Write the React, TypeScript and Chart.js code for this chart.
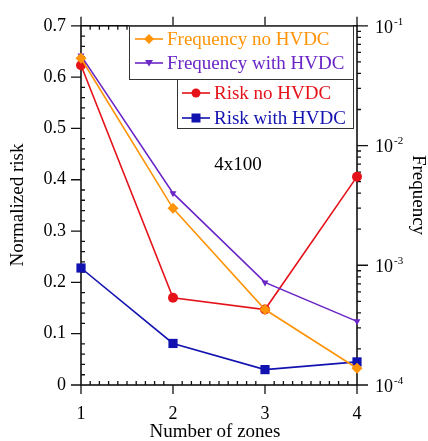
import React, { useEffect, useRef } from 'react';
import { Chart, registerables } from 'chart.js';

Chart.register(...registerables);

// Number of zones on the x axis
const zones = [1, 2, 3, 4];
// Frequency series (right, logarithmic axis)
const freqNoHvdc = [0.0536, 0.00299, 0.000427, 0.000138];
const freqWithHvdc = [0.0564, 0.004, 0.000719, 0.00034];
// Normalized risk series (left axis)
const riskNoHvdc = [0.623, 0.17, 0.147, 0.406];
const riskWithHvdc = [0.228, 0.081, 0.03, 0.045];

const riskTicks = [0, 0.1, 0.2, 0.3, 0.4, 0.5, 0.6, 0.7];
const freqDecades = [1e-4, 1e-3, 1e-2, 1e-1];
const decadeExponents = ['-4', '-3', '-2', '-1'];

const seriesNames = ['Frequency no HVDC', 'Frequency with HVDC', 'Risk no HVDC', 'Risk with HVDC'];
const caseLabel = '4x100';
const xTitle = 'Number of zones';
const yTitle = 'Normalized risk';
const y2Title = 'Frequency';

const SERIF = '"Liberation Serif", "Times New Roman", serif';
const ORANGE = '#FF9408';
const PURPLE = '#6A26C6';
const RED = '#E5121A';
const BLUE = '#1212B0';
const INK = '#111';

type Marker = 'diamond' | 'downTriangle' | 'circle' | 'square';

function drawMarker(ctx: CanvasRenderingContext2D, kind: Marker, x: number, y: number, color: string) {
  ctx.save();
  ctx.fillStyle = color;
  ctx.beginPath();
  if (kind === 'circle') {
    ctx.arc(x, y, 4.5, 0, Math.PI * 2);
  } else if (kind === 'square') {
    ctx.rect(x - 4.5, y - 4.5, 9, 9);
  } else if (kind === 'diamond') {
    ctx.moveTo(x, y - 5);
    ctx.lineTo(x + 5, y);
    ctx.lineTo(x, y + 5);
    ctx.lineTo(x - 5, y);
    ctx.closePath();
  } else {
    ctx.moveTo(x - 4, y - 3);
    ctx.lineTo(x + 4, y - 3);
    ctx.lineTo(x, y + 3.5);
    ctx.closePath();
  }
  ctx.fill();
  ctx.restore();
}

const framePlugin = {
  id: 'frameTicks',
  beforeDatasetsDraw(chart: any) {
    const { ctx, chartArea: a, scales } = chart;
    const xs = scales.x;
    const ys = scales.y;
    const fs = scales.freq;
    ctx.save();
    ctx.strokeStyle = INK;
    ctx.lineWidth = 1.6;
    ctx.strokeRect(a.left, a.top, a.right - a.left, a.bottom - a.top);

    ctx.lineWidth = 1.3;
    ctx.beginPath();
    // x axis: majors every zone, minors every 0.1
    for (let i = 0; i <= 30; i++) {
      const px = xs.getPixelForValue(1 + i / 10);
      if (i % 10 === 0) {
        ctx.moveTo(px, a.bottom); ctx.lineTo(px, a.bottom + 9);
        ctx.moveTo(px, a.top); ctx.lineTo(px, a.top - 9);
      } else {
        ctx.moveTo(px, a.bottom); ctx.lineTo(px, a.bottom - 4);
        ctx.moveTo(px, a.top); ctx.lineTo(px, a.top + 4);
      }
    }
    // left axis: majors every 0.1, minors every 0.02
    for (let i = 0; i <= 35; i++) {
      const py = ys.getPixelForValue(i * 0.02);
      if (i % 5 === 0) {
        ctx.moveTo(a.left, py); ctx.lineTo(a.left - 10, py);
      } else {
        ctx.moveTo(a.left, py); ctx.lineTo(a.left + 4, py);
      }
    }
    // right axis: decades and 2..9 minors
    freqDecades.forEach((d, i) => {
      const py = fs.getPixelForValue(d);
      ctx.moveTo(a.right, py); ctx.lineTo(a.right + 11, py);
      if (i < freqDecades.length - 1) {
        for (let m = 2; m <= 9; m++) {
          const pm = fs.getPixelForValue(d * m);
          ctx.moveTo(a.right, pm); ctx.lineTo(a.right + 4, pm);
        }
      }
    });
    ctx.stroke();
    ctx.restore();
  },
  afterDraw(chart: any) {
    const { ctx, chartArea: a, scales } = chart;
    const fs = scales.freq;
    ctx.save();
    ctx.fillStyle = '#000';

    // right axis decade labels with superscript exponents
    ctx.textAlign = 'left';
    ctx.textBaseline = 'middle';
    freqDecades.forEach((d, i) => {
      const py = fs.getPixelForValue(d);
      ctx.font = `18px ${SERIF}`;
      const lx = a.right + 18;
      ctx.fillText('10', lx, py + 2);
      const w = ctx.measureText('10').width;
      ctx.font = `11px ${SERIF}`;
      ctx.fillText(decadeExponents[i], lx + w + 1, py - 4);
    });

    // axis titles
    ctx.font = `19px ${SERIF}`;
    ctx.textAlign = 'center';
    ctx.textBaseline = 'middle';
    ctx.fillText(xTitle, (a.left + a.right) / 2 - 4, 432);

    ctx.save();
    ctx.translate(18, 205);
    ctx.rotate(-Math.PI / 2);
    ctx.fillText(yTitle, 0, 0);
    ctx.restore();

    ctx.save();
    ctx.translate(418, 195);
    ctx.rotate(Math.PI / 2);
    ctx.fillText(y2Title, 0, 0);
    ctx.restore();

    // case annotation
    ctx.fillText(caseLabel, 238, 165);

    // legend boxes
    ctx.lineWidth = 1;
    ctx.strokeStyle = '#333';
    const boxes = [
      { x0: 129, y0: a.top, x1: 353, y1: 79 },
      { x0: 177, y0: 79, x1: 353, y1: 128 },
    ];
    boxes.forEach((b) => {
      ctx.fillStyle = '#fff';
      ctx.fillRect(b.x0, b.y0, b.x1 - b.x0, b.y1 - b.y0);
      ctx.strokeRect(b.x0 + 0.5, b.y0 + 0.5, b.x1 - b.x0, b.y1 - b.y0);
    });

    const entries: { color: string; marker: Marker; x: number; y: number }[] = [
      { color: ORANGE, marker: 'diamond', x: 135, y: 39 },
      { color: PURPLE, marker: 'downTriangle', x: 135, y: 63 },
      { color: RED, marker: 'circle', x: 182, y: 93 },
      { color: BLUE, marker: 'square', x: 182, y: 118 },
    ];
    ctx.font = `19px ${SERIF}`;
    ctx.textAlign = 'left';
    ctx.textBaseline = 'middle';
    entries.forEach((e, i) => {
      ctx.strokeStyle = e.color;
      ctx.lineWidth = 1.6;
      ctx.beginPath();
      ctx.moveTo(e.x, e.y);
      ctx.lineTo(e.x + 28, e.y);
      ctx.stroke();
      drawMarker(ctx, e.marker, e.x + 14, e.y, e.color);
      ctx.fillStyle = e.color;
      ctx.fillText(seriesNames[i], e.x + 32, e.y + 1);
    });
    ctx.restore();
  },
};

export default function App() {
  const canvasRef = useRef<HTMLCanvasElement | null>(null);

  useEffect(() => {
    const canvas = canvasRef.current;
    if (!canvas) return;
    const pts = (vals: number[]) => zones.map((z, i) => ({ x: z, y: vals[i] }));

    const chart = new Chart(canvas, {
      type: 'line',
      data: {
        datasets: [
          {
            label: seriesNames[0], data: pts(freqNoHvdc), yAxisID: 'freq',
            borderColor: ORANGE, backgroundColor: ORANGE, borderWidth: 1.6,
            pointStyle: 'rectRot', pointRadius: 5.5, pointBorderWidth: 0, clip: false,
          },
          {
            label: seriesNames[1], data: pts(freqWithHvdc), yAxisID: 'freq',
            borderColor: PURPLE, backgroundColor: PURPLE, borderWidth: 1.6,
            pointStyle: 'triangle', pointRotation: 180, pointRadius: 4, pointBorderWidth: 0, clip: false,
          },
          {
            label: seriesNames[2], data: pts(riskNoHvdc), yAxisID: 'y',
            borderColor: RED, backgroundColor: RED, borderWidth: 1.6,
            pointStyle: 'circle', pointRadius: 5, pointBorderWidth: 0, clip: false,
          },
          {
            label: seriesNames[3], data: pts(riskWithHvdc), yAxisID: 'y',
            borderColor: BLUE, backgroundColor: BLUE, borderWidth: 1.6,
            pointStyle: 'rect', pointRadius: 6.5, pointBorderWidth: 0, clip: false,
          },
        ] as any,
      },
      options: {
        responsive: false,
        animation: false,
        events: [],
        layout: { padding: { top: 23, left: 0, right: 0, bottom: 0 } },
        plugins: { legend: { display: false }, tooltip: { enabled: false }, title: { display: false } },
        elements: { line: { tension: 0 } },
        scales: {
          x: {
            type: 'linear', min: 1, max: 4,
            afterBuildTicks: (s: any) => { s.ticks = zones.map((v) => ({ value: v })); },
            afterFit: (s: any) => { s.height = 56; },
            ticks: { font: { family: SERIF, size: 18 }, color: '#000', padding: 18, maxRotation: 0 },
            grid: { display: false, drawTicks: false },
            border: { display: false },
          },
          y: {
            type: 'linear', position: 'left', min: 0, max: 0.7,
            afterBuildTicks: (s: any) => { s.ticks = riskTicks.map((v) => ({ value: v })); },
            afterFit: (s: any) => { s.width = 81; },
            ticks: {
              font: { family: SERIF, size: 18 }, color: '#000', padding: 15,
              callback: (v: any) => String(Math.round(Number(v) * 10) / 10),
            },
            grid: { display: false, drawTicks: false },
            border: { display: false },
          },
          freq: {
            type: 'logarithmic', position: 'right', min: 1e-4, max: 1e-1,
            afterFit: (s: any) => { s.width = 71; },
            ticks: { display: false },
            grid: { display: false, drawTicks: false },
            border: { display: false },
          },
        } as any,
      },
      plugins: [framePlugin],
    });
    return () => chart.destroy();
  }, []);

  return (
    <div style={{ position: 'absolute', left: 0, top: 0, width: 428, height: 441, background: '#fff' }}>
      <canvas ref={canvasRef} width={428} height={441} style={{ display: 'block' }} />
    </div>
  );
}
